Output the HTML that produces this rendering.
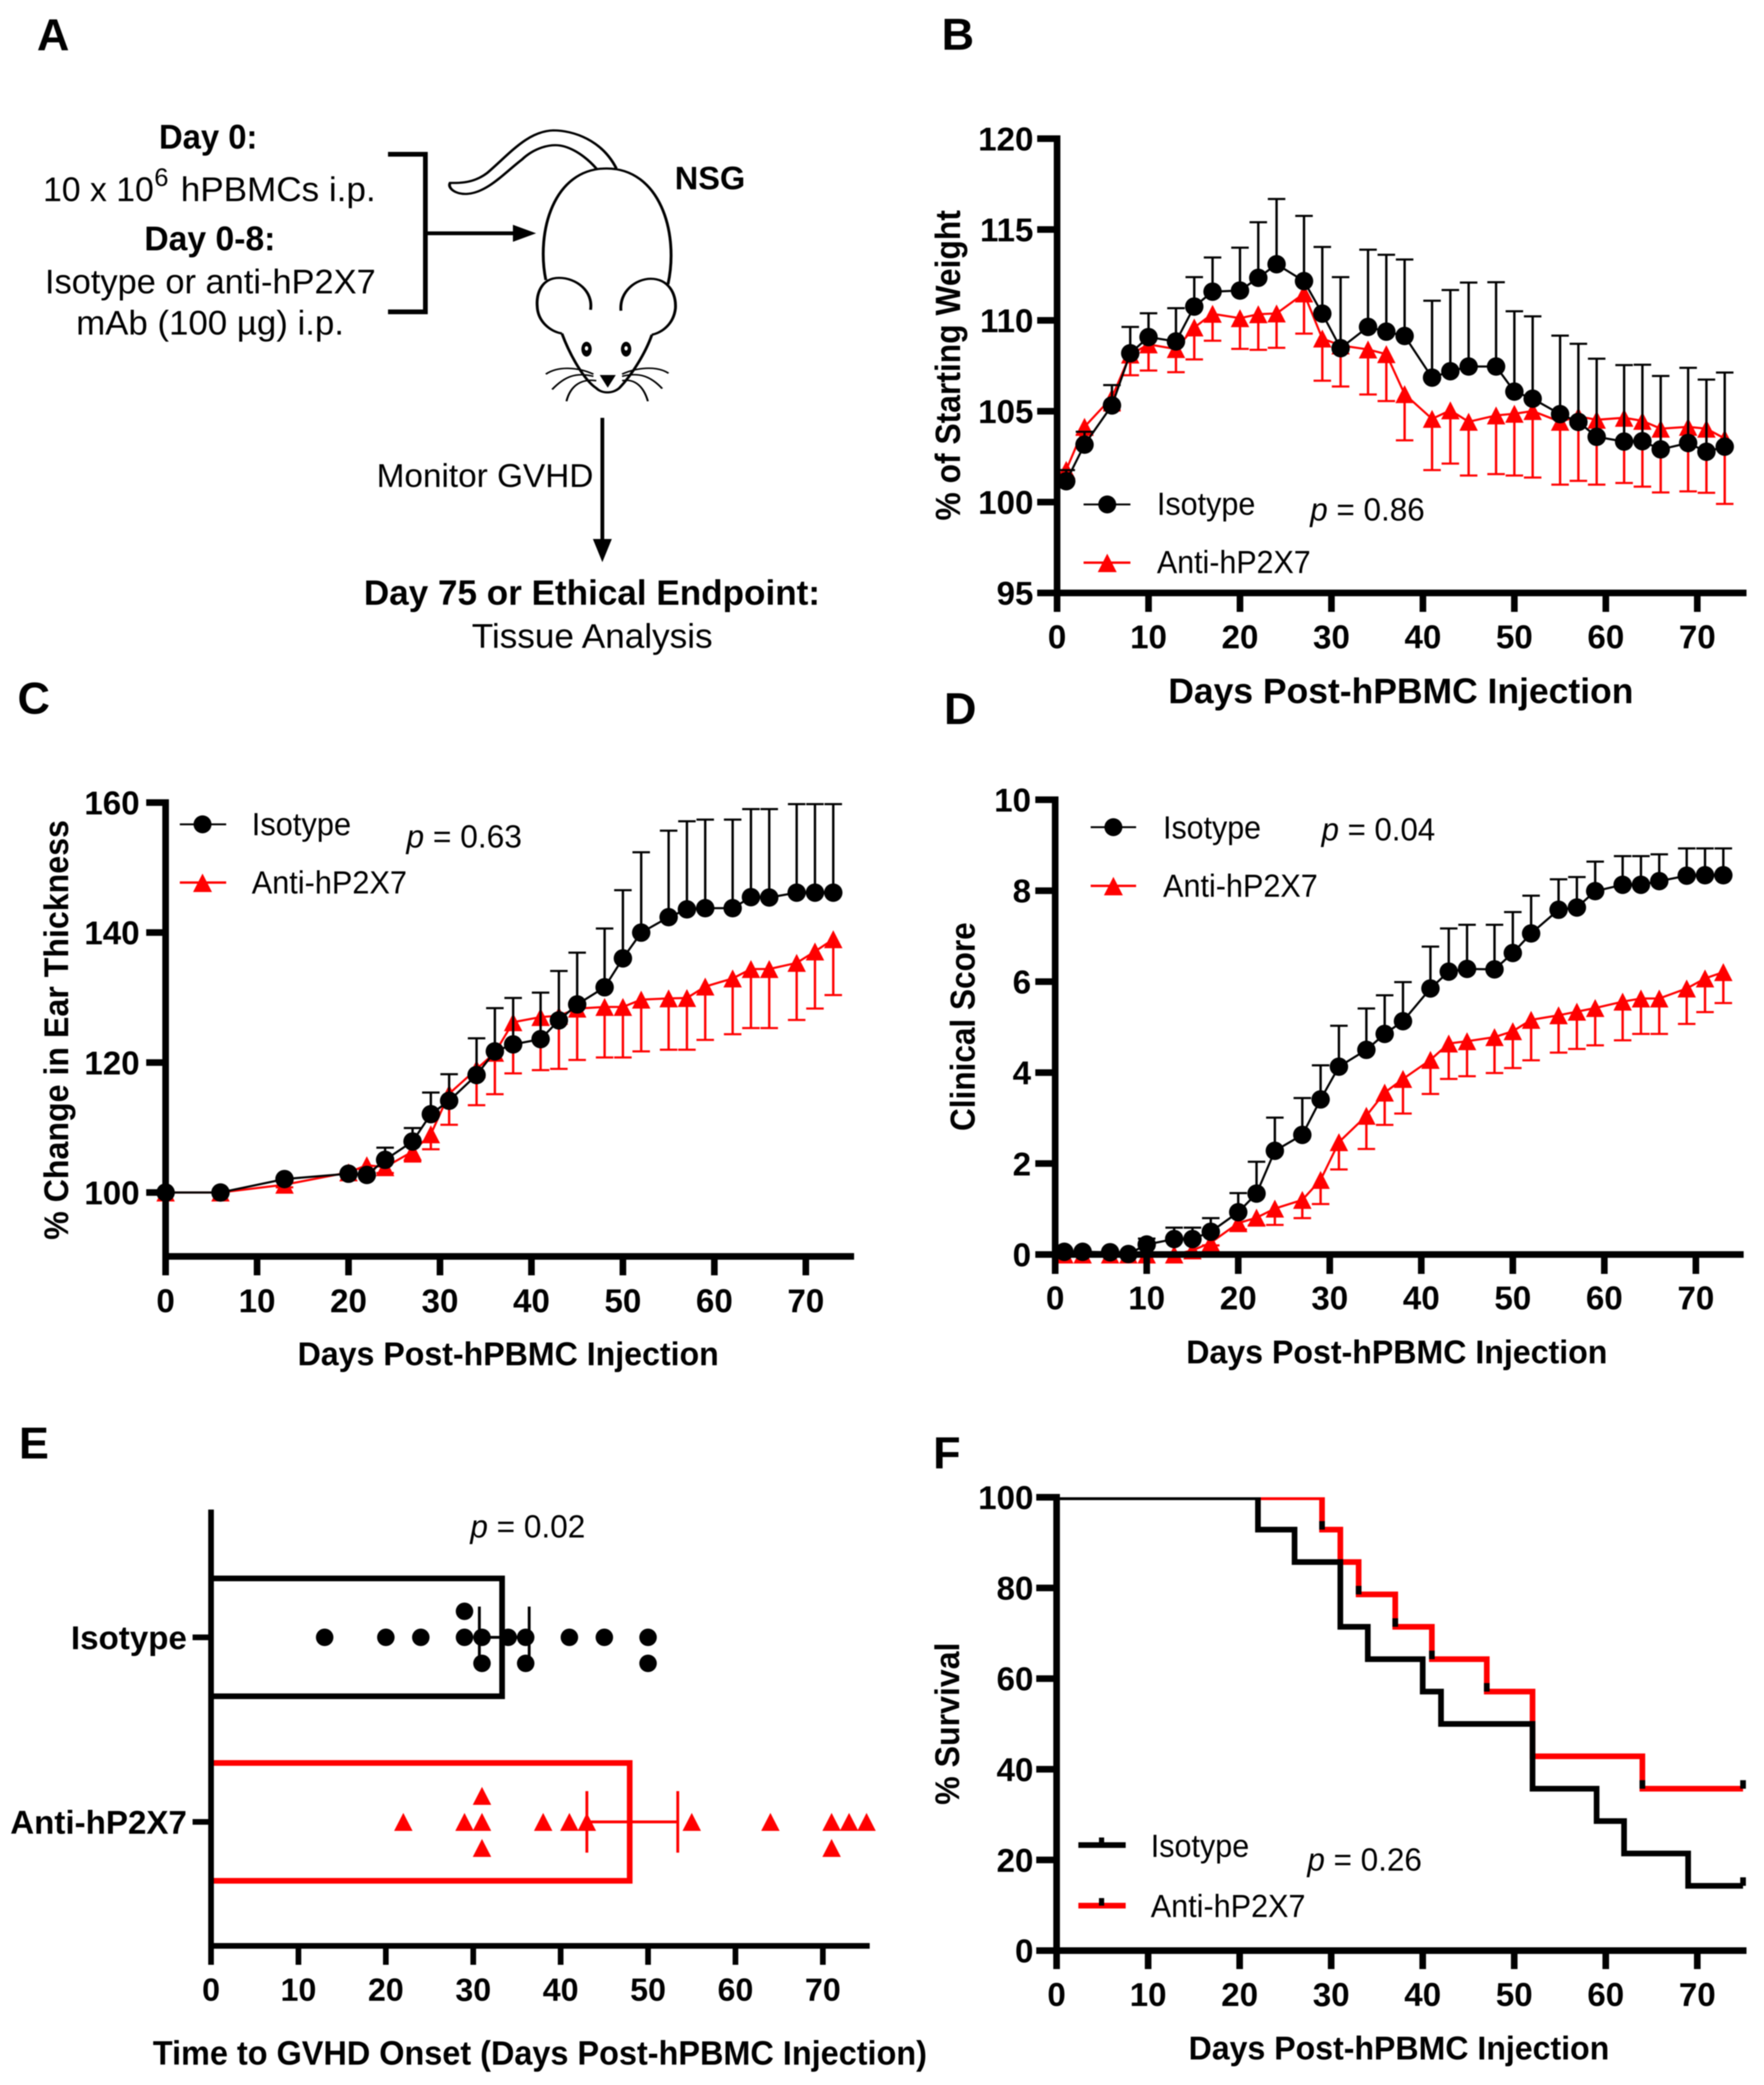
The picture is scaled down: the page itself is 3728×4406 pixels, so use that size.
<!DOCTYPE html>
<html lang="en">
<head>
<meta charset="utf-8">
<title>GVHD figure panels A-F</title>
<style>
html,body{margin:0;padding:0;background:#fff;}
svg{display:block;font-family:"Liberation Sans",sans-serif;filter:blur(1px);}
text{fill:#000;}
.b{font-weight:bold;}
.lab{font-size:68px;}
.ttl{font-size:68px;font-weight:bold;}
.let{font-size:95px;font-weight:bold;}
</style>
</head>
<body>
<svg id="figure" xmlns="http://www.w3.org/2000/svg" width="3728" height="4406" viewBox="0 0 3728 4406">
<rect width="3728" height="4406" fill="#fff"/>

<!-- Panel letters -->
<text class="let" x="78" y="106">A</text>
<text class="let" x="1990" y="105">B</text>
<text class="let" x="37" y="1508">C</text>
<text class="let" x="1995" y="1530">D</text>
<text class="let" x="40" y="3082">E</text>
<text class="let" x="1972" y="3103">F</text>

<!-- Panel A: schematic -->
<g>
  <text class="b" font-size="72" x="336" y="314" textLength="208" lengthAdjust="spacingAndGlyphs">Day 0:</text>
  <text font-size="72" x="91" y="425" textLength="234" lengthAdjust="spacingAndGlyphs">10 x 10</text>
  <text font-size="54" x="326" y="393">6</text>
  <text font-size="72" x="382" y="425" textLength="412" lengthAdjust="spacingAndGlyphs">hPBMCs i.p.</text>
  <text class="b" font-size="72" x="305" y="529" textLength="277" lengthAdjust="spacingAndGlyphs">Day 0-8:</text>
  <text font-size="72" x="95" y="620" textLength="699" lengthAdjust="spacingAndGlyphs">Isotype or anti-hP2X7</text>
  <text font-size="72" x="161" y="707" textLength="566" lengthAdjust="spacingAndGlyphs">mAb (100 µg) i.p.</text>
  <text class="b" font-size="69" x="1426" y="400" textLength="149" lengthAdjust="spacingAndGlyphs">NSG</text>
  <text font-size="70" x="796" y="1029" textLength="458" lengthAdjust="spacingAndGlyphs">Monitor GVHD</text>
  <text class="b" font-size="74" x="769" y="1278" textLength="964" lengthAdjust="spacingAndGlyphs">Day 75 or Ethical Endpoint:</text>
  <text font-size="72" x="997" y="1369" textLength="509" lengthAdjust="spacingAndGlyphs">Tissue Analysis</text>

  <path d="M820 326H899V659H820" fill="none" stroke="#000" stroke-width="10"/>
  <path d="M899 493H1090" stroke="#000" stroke-width="8" fill="none"/>
  <path d="M1084 475L1133 493L1084 511Z" fill="#000"/>
  <path d="M1273 883V1145" stroke="#000" stroke-width="8" fill="none"/>
  <path d="M1253 1139H1293L1273 1188Z" fill="#000"/>

  <g transform="scale(1.2117 .9247)" fill="none" stroke="#000" stroke-width="5">
    <path d="M1075 385C1050 320 1000 298 965 298C920 300 890 350 850 395C825 420 800 418 785 418C780 430 795 445 815 443C850 440 880 395 910 365C930 340 960 325 985 335C1010 345 1030 370 1040 385"/>
    <path d="M952 640C935 530 965 385 1058 385C1150 385 1185 530 1165 650"/>
    <path d="M1030 708C1035 665 1005 635 975 635C945 635 935 670 937 700C938 735 960 758 980 762"/>
    <path d="M1083 710C1080 665 1110 637 1135 637C1165 637 1180 670 1178 705C1175 740 1155 760 1137 765"/>
    <path d="M980 762C995 815 1020 870 1040 887C1050 900 1068 900 1080 887C1100 860 1125 810 1137 765"/>
    <ellipse cx="1023" cy="798" rx="9" ry="17" fill="#000" stroke="none"/>
    <ellipse cx="1092" cy="798" rx="9" ry="17" fill="#000" stroke="none"/>
    <ellipse cx="1023" cy="796" rx="3" ry="5" fill="#fff" stroke="none"/>
    <ellipse cx="1092" cy="796" rx="3" ry="5" fill="#fff" stroke="none"/>
    <path d="M1046 857H1074L1060 886Z" fill="#000" stroke="none"/>
    <path stroke-width="3.5" d="M1035 855C1010 840 975 835 952 855M1035 860C1005 850 985 860 963 890M1040 870C1015 865 995 880 988 917"/>
    <path stroke-width="3.5" d="M1085 855C1110 840 1145 835 1166 853M1085 860C1115 850 1135 860 1155 888M1085 870C1105 865 1122 880 1130 917"/>
  </g>
</g>

<!-- Panel B -->
<g id="panel-b"></g>
<g>
  <text class="ttl" style="font-size:74px" transform="translate(2029 1100) rotate(-90)" textLength="656" lengthAdjust="spacingAndGlyphs">% of Starting Weight</text>
  <text class="ttl" x="2469" y="1486" style="font-size:75px" textLength="983" lengthAdjust="spacingAndGlyphs">Days Post-hPBMC Injection</text>
  <path d="M2290 1066H2389" stroke="#000" stroke-width="4"/>
  <circle cx="2340" cy="1066" r="19" fill="#000"/>
  <text class="lab" x="2445" y="1088" textLength="208" lengthAdjust="spacingAndGlyphs">Isotype</text>
  <path d="M2290 1189H2389" stroke="#f00" stroke-width="5"/>
  <path d="M2340 1170L2360 1209H2320Z" fill="#f00"/>
  <text class="lab" x="2445" y="1211" textLength="325" lengthAdjust="spacingAndGlyphs">Anti-hP2X7</text>
  <text class="lab" x="2769" y="1100" textLength="242" lengthAdjust="spacingAndGlyphs"><tspan font-style="italic">p</tspan> = 0.86</text>
</g>

<!-- Panel C -->
<g id="panel-c"></g>
<g>
  <text class="ttl" style="font-size:72px" transform="translate(144 2620) rotate(-90)" textLength="887" lengthAdjust="spacingAndGlyphs">% Change in Ear Thickness</text>
  <text class="ttl" x="629" y="2885" style="font-size:70px" textLength="890" lengthAdjust="spacingAndGlyphs">Days Post-hPBMC Injection</text>
  <path d="M380 1742H478" stroke="#000" stroke-width="4"/>
  <circle cx="428" cy="1742" r="19" fill="#000"/>
  <text class="lab" x="532" y="1765" textLength="210" lengthAdjust="spacingAndGlyphs">Isotype</text>
  <path d="M380 1865H478" stroke="#f00" stroke-width="5"/>
  <path d="M428 1846L448 1885H408Z" fill="#f00"/>
  <text class="lab" x="532" y="1888" textLength="328" lengthAdjust="spacingAndGlyphs">Anti-hP2X7</text>
  <text class="lab" x="859" y="1791" textLength="244" lengthAdjust="spacingAndGlyphs"><tspan font-style="italic">p</tspan> = 0.63</text>
</g>

<!-- Panel D -->
<g id="panel-d"></g>
<g>
  <text class="ttl" style="font-size:73px" transform="translate(2060 2390) rotate(-90)" textLength="441" lengthAdjust="spacingAndGlyphs">Clinical Score</text>
  <text class="ttl" x="2507" y="2881" style="font-size:70px" textLength="890" lengthAdjust="spacingAndGlyphs">Days Post-hPBMC Injection</text>
  <path d="M2305 1748H2401" stroke="#000" stroke-width="4"/>
  <circle cx="2353" cy="1748" r="19" fill="#000"/>
  <text class="lab" x="2458" y="1772" textLength="207" lengthAdjust="spacingAndGlyphs">Isotype</text>
  <path d="M2305 1872H2401" stroke="#f00" stroke-width="5"/>
  <path d="M2353 1853L2373 1892H2333Z" fill="#f00"/>
  <text class="lab" x="2458" y="1895" textLength="327" lengthAdjust="spacingAndGlyphs">Anti-hP2X7</text>
  <text class="lab" x="2793" y="1776" textLength="240" lengthAdjust="spacingAndGlyphs"><tspan font-style="italic">p</tspan> = 0.04</text>
</g>

<!-- Panel E -->
<g id="panel-e"></g>
<g>
  <text class="ttl" x="323" y="4363" style="font-size:71px" textLength="1636" lengthAdjust="spacingAndGlyphs">Time to GVHD Onset (Days Post-hPBMC Injection)</text>
  <text class="lab" x="994" y="3249" textLength="243" lengthAdjust="spacingAndGlyphs"><tspan font-style="italic">p</tspan> = 0.02</text>
</g>

<!-- Panel F -->
<g id="panel-f"></g>
<g>
  <text class="ttl" style="font-size:72px" transform="translate(2027 3814) rotate(-90)" textLength="343" lengthAdjust="spacingAndGlyphs">% Survival</text>
  <text class="ttl" x="2512" y="4352" style="font-size:70px" textLength="889" lengthAdjust="spacingAndGlyphs">Days Post-hPBMC Injection</text>
  <path d="M2279 3899H2379" stroke="#000" stroke-width="12"/>
  <path d="M2328 3899V3883" stroke="#000" stroke-width="11"/>
  <text class="lab" x="2432" y="3924" textLength="208" lengthAdjust="spacingAndGlyphs">Isotype</text>
  <path d="M2279 4027H2379" stroke="#f00" stroke-width="12"/>
  <path d="M2328 4027V4011" stroke="#000" stroke-width="11"/>
  <text class="lab" x="2432" y="4051" textLength="327" lengthAdjust="spacingAndGlyphs">Anti-hP2X7</text>
  <text class="lab" x="2763" y="3953" textLength="242" lengthAdjust="spacingAndGlyphs"><tspan font-style="italic">p</tspan> = 0.26</text>
</g>
</svg>

<script>
// ---------- Data ----------
const dayTicks = [0, 10, 20, 30, 40, 50, 60, 70];
const weightDays = [1,3,6,8,10,13,15,17,20,22,24,27,29,31,34,36,38,41,43,45,48,50,52,55,57,59,62,64,66,69,71,73];
const weightTicks = [95, 100, 105, 110, 115, 120];
const weightIsoMean = [101.15,103.16,105.32,108.19,109.08,108.84,110.76,111.58,111.64,112.34,113.09,112.16,110.37,108.47,109.64,109.38,109.14,106.85,107.2,107.46,107.46,106.08,105.69,104.84,104.41,103.59,103.33,103.35,102.9,103.25,102.77,103.05];
const weightIsoUpper = [101.76,103.87,106.44,109.64,110.39,110.67,112.38,113.46,114,115.4,116.68,115.75,114.04,112.38,113.89,113.61,113.35,111.08,111.67,112.08,112.1,110.5,110.22,109.16,108.71,107.89,107.54,107.56,106.94,107.39,106.74,107.13];
const weightAntiMean = [101.77,104.14,105.76,108.12,108.68,108.42,109.61,110.36,110.12,110.34,110.38,111.48,109,108.62,108.4,108.14,105.94,104.58,105.05,104.42,104.77,104.86,105.01,104.42,104.72,104.53,104.64,104.47,104.04,104.14,104.04,103.5];
const weightAntiLower = [101.2,103.7,105.04,106.98,107.24,107.15,107.85,108.88,108.43,108.38,108.49,109.27,106.68,106.36,105.92,105.56,103.4,101.76,102.12,101.46,101.54,101.46,101.35,100.96,101.17,100.96,101.05,100.85,100.53,100.59,100.51,99.9];

const earDays = [0,6,13,20,22,24,27,29,31,34,36,38,41,43,45,48,50,52,55,57,59,62,64,66,69,71,73];
const earTicks = [100, 120, 140, 160];
const earIsoMean = [100,100,102.07,102.89,102.7,105.02,107.85,112.05,114.12,118.08,121.72,122.79,123.6,126.49,128.94,131.58,136.03,139.99,142.37,143.57,143.75,143.75,145.45,145.39,146.14,146.14,146.14];
const earIsoUpper = [100,100,102.2,103.2,103,106.9,109.92,115.38,118.2,123.73,128.37,129.94,130.76,134.09,136.91,140.62,146.52,152.35,155.68,157.12,157.38,157.38,159,159,159.76,159.76,159.76];
const earAntiMean = [100,100,101.2,103.1,104.2,103.9,106.3,108.96,115.2,119,121.5,126.2,127,127.2,128.3,128.55,128.55,129.68,129.87,129.93,131.69,132.94,134.39,134.39,135.33,137.09,138.97];
const earAntiLower = [99.9,99.9,100.8,102.6,103.6,103,104.77,106.65,110.42,113.43,115.13,118.33,118.83,119.02,120.4,120.78,120.78,121.72,121.97,121.97,123.48,124.36,125.3,125.3,126.55,128.31,130.38];

const clinicalTicks = [0, 2, 4, 6, 8, 10];
const clinicalIsoMean = [0.06,0.06,0.05,0.01,0.22,0.34,0.34,0.5,0.93,1.34,2.28,2.63,3.41,4.13,4.5,4.85,5.13,5.85,6.22,6.28,6.27,6.63,7.06,7.58,7.63,7.99,8.13,8.13,8.21,8.33,8.34,8.34];
const clinicalIsoUpper = [0.08,0.08,0.07,0.02,0.35,0.59,0.59,0.8,1.35,2.04,3.01,3.44,4.16,5.03,5.41,5.7,5.99,6.77,7.17,7.25,7.25,7.53,7.89,8.25,8.3,8.64,8.76,8.76,8.8,8.93,8.93,8.93];
const clinicalAntiMean = [0,0,0,0,0,0,0.09,0.26,0.69,0.81,1.01,1.2,1.64,2.47,3.05,3.56,3.86,4.28,4.64,4.69,4.78,4.91,5.16,5.26,5.34,5.42,5.56,5.63,5.63,5.85,6.07,6.21];
const clinicalAntiLower = [0,0,0,0,0,0,0.03,0.2,0.55,0.64,0.65,0.8,1.11,1.87,2.32,2.85,3.1,3.53,3.86,3.92,3.99,4.1,4.27,4.44,4.52,4.6,4.71,4.85,4.85,5.07,5.33,5.53];

const onsetCategories = ["Isotype", "Anti-hP2X7"];
const onsetMeans = [33.3, 47.9];
const onsetErrLow = [30.7, 43];
const onsetErrHigh = [36.4, 53.4];
const onsetIsoCenter = [13, 20, 24, 29, 31, 34, 36, 41, 45, 50];
const onsetIsoUpperRow = [29];
const onsetIsoLowerRow = [31, 36, 50];
const onsetAntiCenter = [22, 29, 31, 38, 41, 43, 55, 64, 71, 73, 75];
const onsetAntiUpperRow = [31];
const onsetAntiLowerRow = [31, 71];

const survivalTicks = [0, 20, 40, 60, 80, 100];
const survivalIsoDays = [0, 22, 26, 31, 34, 40, 42, 52, 59, 62, 69, 75];
const survivalIsoValues = [100, 92.86, 85.71, 71.43, 64.29, 57.14, 50, 35.71, 28.57, 21.43, 14.29];
const survivalAntiDays = [0, 29, 31, 33, 37, 41, 47, 52, 64, 75];
const survivalAntiValues = [100, 92.86, 85.71, 78.57, 71.43, 64.29, 57.14, 42.86, 35.71];
const censorIsoDays = [75];
const censorIsoValues = [14.29];
const censorAntiDays = [29, 33, 37, 41, 47, 64, 75];
const censorAntiValues = [92.86, 78.57, 71.43, 64.29, 57.14, 35.71, 35.71];

// ---------- Helpers ----------
const NS = 'http://www.w3.org/2000/svg';
const RED = '#ff0000';
const BLACK = '#000000';
function make(tag, parent, props) {
  const e = document.createElementNS(NS, tag);
  for (const k in props) e.setAttribute(k, props[k]);
  parent.appendChild(e);
  return e;
}
function linear(d0, d1, r0, r1) {
  return function (v) { return r0 + (v - d0) * (r1 - r0) / (d1 - d0); };
}
function drawXAxis(g, x, cfg) {
  const line = make('path', g, { d: 'M' + (cfg.x0 - cfg.axisW / 2) + ' ' + cfg.yBase + 'H' + cfg.xEnd, stroke: BLACK, 'stroke-width': cfg.axisW, fill: 'none' });
  
  
  dayTicks.forEach(function (t) {
    const tick = make('path', g, { d: 'M' + x(t) + ' ' + cfg.yBase + 'V' + cfg.xTickEnd, stroke: BLACK, 'stroke-width': cfg.axisW, fill: 'none' });
    
    
    const label = make('text', g, { x: x(t), y: cfg.xLabelY, 'text-anchor': 'middle', 'font-size': 70, 'font-weight': 'bold' });
    label.textContent = t;
    
    
  });
}
function drawYAxis(g, y, ticks, cfg) {
  const line = make('path', g, { d: 'M' + cfg.x0 + ' ' + (y(ticks[ticks.length - 1]) - cfg.axisW / 2) + 'V' + (cfg.yBase + cfg.axisW / 2), stroke: BLACK, 'stroke-width': cfg.axisW, fill: 'none' });
  
  
  ticks.forEach(function (t) {
    const tick = make('path', g, { d: 'M' + (cfg.x0 - cfg.yTickLen) + ' ' + y(t) + 'H' + cfg.x0, stroke: BLACK, 'stroke-width': cfg.axisW, fill: 'none' });
    
    
    const label = make('text', g, { x: cfg.yLabelX, y: y(t) + 25, 'text-anchor': 'end', 'font-size': 70, 'font-weight': 'bold' });
    label.textContent = t;
    
    
  });
}
function triangle(cx, cy) {
  return 'M' + cx + ' ' + (cy - 19) + 'L' + (cx + 19.5) + ' ' + (cy + 19) + 'H' + (cx - 19.5) + 'Z';
}
function drawSeries(g, days, means, errs, x, y, color, kind) {
  days.forEach(function (d, i) {
    const bar = make('path', g, { d: 'M' + x(d) + ' ' + y(means[i]) + 'V' + y(errs[i]), stroke: color, 'stroke-width': 5, fill: 'none' });
    
    
    const cap = make('path', g, { d: 'M' + (x(d) - 18.5) + ' ' + y(errs[i]) + 'h37', stroke: color, 'stroke-width': 4.5, fill: 'none' });
    
    
  });
  const pts = days.map(function (d, i) { return x(d) + ',' + y(means[i]); }).join(' ');
  const line = make('polyline', g, { points: pts, fill: 'none', stroke: color, 'stroke-width': 4.5 });
  
  
  days.forEach(function (d, i) {
    if (kind === 'isotype') {
      const dot = make('circle', g, { cx: x(d), cy: y(means[i]), r: 19.5, fill: color });
      
      
    } else {
      const tri = make('path', g, { d: triangle(x(d), y(means[i])), fill: color });
      
      
    }
  });
}
function drawLineChart(id, cfg, ticks, days, isoMean, isoUpper, antiMean, antiLower) {
  const g = document.getElementById(id);
  const x = linear(0, 70, cfg.x0, cfg.x70);
  const y = linear(cfg.yMin, cfg.yMax, cfg.yMinPx, cfg.yMaxPx);
  drawSeries(g, days, antiMean, antiLower, x, y, RED, 'anti');
  drawSeries(g, days, isoMean, isoUpper, x, y, BLACK, 'isotype');
  drawXAxis(g, x, cfg);
  drawYAxis(g, y, ticks, cfg);
}

// ---------- Panels B, C, D ----------
drawLineChart('panel-b', { x0: 2234, x70: 3587, xEnd: 3691, yMin: 95, yMax: 120, yMinPx: 1253, yMaxPx: 293, yBase: 1253, axisW: 14, xTickEnd: 1293, xLabelY: 1370, yTickLen: 42, yLabelX: 2184 }, weightTicks, weightDays, weightIsoMean, weightIsoUpper, weightAntiMean, weightAntiLower);
drawLineChart('panel-c', { x0: 350, x70: 1703, xEnd: 1805, yMin: 100, yMax: 160, yMinPx: 2520, yMaxPx: 1696, yBase: 2655, axisW: 14, xTickEnd: 2695, xLabelY: 2773, yTickLen: 41, yLabelX: 295 }, earTicks, earDays, earIsoMean, earIsoUpper, earAntiMean, earAntiLower);
drawLineChart('panel-d', { x0: 2230, x70: 3584, xEnd: 3685, yMin: 0, yMax: 10, yMinPx: 2651, yMaxPx: 1690, yBase: 2651, axisW: 14, xTickEnd: 2692, xLabelY: 2767, yTickLen: 42, yLabelX: 2179 }, clinicalTicks, weightDays, clinicalIsoMean, clinicalIsoUpper, clinicalAntiMean, clinicalAntiLower);

// ---------- Panel E ----------
(function () {
  const g = document.getElementById('panel-e');
  const x = linear(0, 70, 446, 1739);
  const rows = [3460, 3850];
  const halfBar = 124.5;
  const rowGap = 55;
  const colors = [BLACK, RED];
  const kinds = ['isotype', 'anti'];
  onsetMeans.forEach(function (m, i) {
    const bar = make('path', g, { d: 'M' + x(0) + ' ' + (rows[i] - halfBar) + 'H' + x(m) + 'V' + (rows[i] + halfBar) + 'H' + x(0), fill: 'none', stroke: colors[i], 'stroke-width': 12 });
    
    
  });
  function dots(list, offset) {
    list.forEach(function (d) {
      const dot = make('circle', g, { cx: x(d), cy: rows[0] + offset, r: 18.5, fill: BLACK });
      
      
    });
  }
  function tris(list, offset) {
    list.forEach(function (d) {
      const tri = make('path', g, { d: triangle(x(d), rows[1] + offset), fill: RED });
      
      
    });
  }
  dots(onsetIsoCenter, 0);
  dots(onsetIsoUpperRow, -rowGap);
  dots(onsetIsoLowerRow, rowGap);
  tris(onsetAntiCenter, 0);
  tris(onsetAntiUpperRow, -rowGap);
  tris(onsetAntiLowerRow, rowGap);
  onsetErrLow.forEach(function (lo, i) {
    const hi = onsetErrHigh[i];
    const err = make('path', g, { d: 'M' + x(lo) + ' ' + rows[i] + 'H' + x(hi) + 'M' + x(lo) + ' ' + (rows[i] - 65) + 'v130M' + x(hi) + ' ' + (rows[i] - 65) + 'v130', fill: 'none', stroke: colors[i], 'stroke-width': 6 });
    
    
  });
  const yLine = make('path', g, { d: 'M446 3190V4118', stroke: BLACK, 'stroke-width': 12, fill: 'none' });
  
  
  const xLine = make('path', g, { d: 'M446 4112H1838', stroke: BLACK, 'stroke-width': 12, fill: 'none' });
  
  
  dayTicks.forEach(function (t) {
    const tick = make('path', g, { d: 'M' + x(t) + ' 4112V4152', stroke: BLACK, 'stroke-width': 12, fill: 'none' });
    
    
    const label = make('text', g, { x: x(t), y: 4228, 'text-anchor': 'middle', 'font-size': 68, 'font-weight': 'bold' });
    label.textContent = t;
    
    
  });
  onsetCategories.forEach(function (c, i) {
    const tick = make('path', g, { d: 'M407 ' + rows[i] + 'H446', stroke: BLACK, 'stroke-width': 12, fill: 'none' });
    
    
    const label = make('text', g, { x: 395, y: rows[i] + 25, 'text-anchor': 'end', 'font-size': 70, 'font-weight': 'bold' });
    label.textContent = c;
    
    
  });
})();

// ---------- Panel F ----------
(function () {
  const g = document.getElementById('panel-f');
  const x = linear(0, 70, 2233, 3587);
  const y = linear(0, 100, 4122, 3164);
  const clip = make('clipPath', g, { id: 'survival-clip' });
  make('rect', clip, { x: 2200, y: y(100), width: 1500, height: 1000 });
  function steps(days, values) {
    let d = 'M' + x(days[0]) + ' ' + y(values[0]);
    values.forEach(function (v, i) {
      d += 'H' + x(days[i + 1]);
      if (i + 1 < values.length) d += 'V' + y(values[i + 1]);
    });
    return d;
  }
  const anti = make('path', g, { d: steps(survivalAntiDays, survivalAntiValues), fill: 'none', stroke: RED, 'stroke-width': 12, 'clip-path': 'url(#survival-clip)' });
  
  
  const iso = make('path', g, { d: steps(survivalIsoDays, survivalIsoValues), fill: 'none', stroke: BLACK, 'stroke-width': 12, 'clip-path': 'url(#survival-clip)' });
  
  
  function censors(days, values) {
    days.forEach(function (d, i) {
      const c = make('path', g, { d: 'M' + x(d) + ' ' + y(values[i]) + 'v-18', stroke: BLACK, 'stroke-width': 12, fill: 'none' });
      
      
    });
  }
  censors(censorAntiDays, censorAntiValues);
  censors(censorIsoDays, censorIsoValues);
  const cfg = { x0: 2233, xEnd: 3691, yBase: 4122, axisW: 14, xTickEnd: 4161, xLabelY: 4239, yTickLen: 43, yLabelX: 2184 };
  drawXAxis(g, x, cfg);
  drawYAxis(g, y, survivalTicks, cfg);
})();
</script>
</body>
</html>
